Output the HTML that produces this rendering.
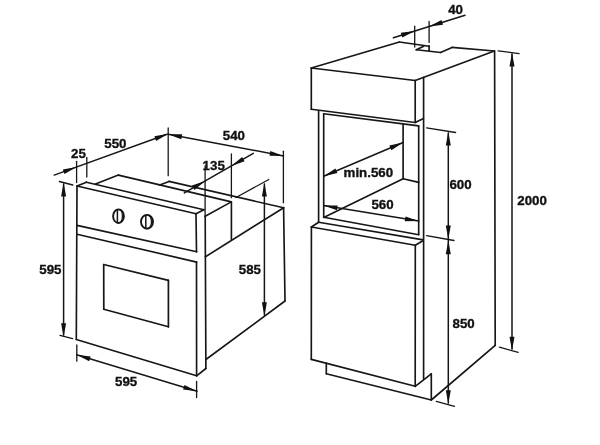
<!DOCTYPE html>
<html><head><meta charset="utf-8"><title>Oven installation dimensions</title>
<style>html,body{margin:0;padding:0;background:#fff}svg{display:block;will-change:transform}text{font-family:"Liberation Sans",Arial,Helvetica,sans-serif;font-weight:bold;font-size:13.3px;fill:#111;stroke:#111;stroke-width:0.35px}</style></head><body>
<svg width="600" height="445" viewBox="0 0 600 445">
<rect width="600" height="445" fill="#fff"/>
<g stroke="#161616" stroke-linecap="round" fill="none">
<line x1="77.0" y1="186.0" x2="196.0" y2="213.8" stroke-width="1.65"/>
<line x1="77.0" y1="186.0" x2="76.3" y2="339.5" stroke-width="1.65"/>
<line x1="76.3" y1="339.5" x2="196.6" y2="375.8" stroke-width="1.65"/>
<line x1="196.0" y1="213.8" x2="196.5" y2="251.8" stroke-width="1.65"/>
<line x1="196.5" y1="262.1" x2="196.6" y2="375.8" stroke-width="1.65"/>
<line x1="77.0" y1="186.0" x2="86.4" y2="182.2" stroke-width="1.65"/>
<line x1="86.4" y1="182.2" x2="203.9" y2="209.7" stroke-width="1.65"/>
<line x1="196.0" y1="213.8" x2="203.9" y2="209.7" stroke-width="1.65"/>
<line x1="77.0" y1="225.4" x2="196.7" y2="251.8" stroke-width="1.65"/>
<line x1="77.0" y1="234.2" x2="196.7" y2="262.1" stroke-width="1.65"/>
<line x1="103.7" y1="264.5" x2="168.4" y2="280.4" stroke-width="1.7"/>
<line x1="168.4" y1="280.4" x2="168.4" y2="326.8" stroke-width="1.7"/>
<line x1="168.4" y1="326.8" x2="103.8" y2="309.2" stroke-width="1.7"/>
<line x1="103.8" y1="309.2" x2="103.7" y2="264.5" stroke-width="1.7"/>
<line x1="196.6" y1="375.8" x2="205.9" y2="368.5" stroke-width="1.65"/>
<line x1="205.2" y1="216.3" x2="205.9" y2="368.5" stroke-width="1.65"/>
<line x1="95.5" y1="184.0" x2="118.4" y2="175.1" stroke-width="1.65"/>
<line x1="118.4" y1="175.1" x2="159.7" y2="184.9" stroke-width="1.65"/>
<line x1="159.7" y1="184.9" x2="169.0" y2="181.4" stroke-width="1.65"/>
<line x1="169.0" y1="181.4" x2="283.6" y2="207.8" stroke-width="1.65"/>
<line x1="159.7" y1="184.9" x2="231.3" y2="201.9" stroke-width="1.65"/>
<line x1="205.2" y1="216.3" x2="231.3" y2="201.9" stroke-width="1.65"/>
<line x1="231.4" y1="201.9" x2="231.4" y2="239.9" stroke-width="1.65"/>
<line x1="205.4" y1="256.8" x2="283.7" y2="207.7" stroke-width="1.65"/>
<line x1="283.6" y1="207.8" x2="285.0" y2="301.0" stroke-width="1.65"/>
<line x1="205.9" y1="359.5" x2="285.0" y2="301.0" stroke-width="1.65"/>
<line x1="54.2" y1="175.1" x2="167.0" y2="134.2" stroke-width="1.5"/>
<line x1="76.6" y1="161.3" x2="76.6" y2="182.5" stroke-width="1.3"/>
<line x1="86.8" y1="157.4" x2="86.8" y2="177.0" stroke-width="1.3"/>
<line x1="168.2" y1="128.0" x2="168.2" y2="175.7" stroke-width="1.3"/>
<line x1="168.2" y1="134.2" x2="283.5" y2="155.9" stroke-width="1.5"/>
<line x1="283.4" y1="151.2" x2="283.4" y2="202.8" stroke-width="1.3"/>
<line x1="184.3" y1="192.9" x2="253.3" y2="153.3" stroke-width="1.5"/>
<line x1="205.1" y1="166.0" x2="205.1" y2="216.0" stroke-width="1.3"/>
<line x1="231.4" y1="154.0" x2="231.4" y2="197.7" stroke-width="1.3"/>
<line x1="236.0" y1="197.5" x2="268.8" y2="179.5" stroke-width="1.3"/>
<line x1="264.4" y1="184.0" x2="264.4" y2="315.0" stroke-width="1.5"/>
<line x1="59.3" y1="181.5" x2="72.8" y2="185.0" stroke-width="1.3"/>
<line x1="60.0" y1="335.3" x2="72.6" y2="338.6" stroke-width="1.3"/>
<line x1="63.6" y1="184.0" x2="63.6" y2="335.0" stroke-width="1.5"/>
<line x1="76.8" y1="345.0" x2="76.8" y2="361.2" stroke-width="1.3"/>
<line x1="196.6" y1="381.5" x2="196.6" y2="397.6" stroke-width="1.3"/>
<line x1="76.7" y1="354.8" x2="197.0" y2="391.2" stroke-width="1.5"/>
<line x1="311.3" y1="68.0" x2="415.2" y2="80.5" stroke-width="1.65"/>
<line x1="311.3" y1="68.0" x2="311.3" y2="109.3" stroke-width="1.65"/>
<line x1="311.3" y1="109.3" x2="415.2" y2="122.5" stroke-width="1.65"/>
<line x1="415.2" y1="80.5" x2="415.2" y2="122.5" stroke-width="1.65"/>
<line x1="415.2" y1="122.5" x2="423.5" y2="118.6" stroke-width="1.65"/>
<line x1="311.3" y1="68.0" x2="399.4" y2="42.0" stroke-width="1.65"/>
<line x1="415.2" y1="80.5" x2="494.4" y2="51.0" stroke-width="1.65"/>
<line x1="399.4" y1="42.0" x2="429.1" y2="46.2" stroke-width="1.65"/>
<line x1="429.1" y1="45.8" x2="429.1" y2="50.9" stroke-width="1.65"/>
<line x1="416.3" y1="49.8" x2="440.6" y2="52.5" stroke-width="1.65"/>
<line x1="416.3" y1="49.8" x2="423.7" y2="46.2" stroke-width="1.65"/>
<line x1="440.6" y1="52.5" x2="452.0" y2="47.4" stroke-width="1.65"/>
<line x1="452.0" y1="47.4" x2="494.4" y2="51.0" stroke-width="1.65"/>
<line x1="423.6" y1="77.3" x2="423.6" y2="379.5" stroke-width="1.65"/>
<line x1="494.6" y1="51.0" x2="495.2" y2="345.4" stroke-width="1.65"/>
<line x1="318.6" y1="110.5" x2="318.6" y2="222.3" stroke-width="1.65"/>
<line x1="323.7" y1="113.8" x2="323.7" y2="217.0" stroke-width="1.65"/>
<line x1="323.7" y1="113.8" x2="418.6" y2="125.9" stroke-width="1.65"/>
<line x1="403.1" y1="124.4" x2="403.1" y2="178.7" stroke-width="1.65"/>
<line x1="418.7" y1="125.9" x2="418.7" y2="234.7" stroke-width="1.65"/>
<line x1="323.7" y1="217.5" x2="403.1" y2="178.7" stroke-width="1.65"/>
<line x1="403.1" y1="178.7" x2="418.7" y2="182.4" stroke-width="1.65"/>
<line x1="323.7" y1="217.3" x2="418.7" y2="234.7" stroke-width="1.65"/>
<line x1="318.6" y1="222.3" x2="423.3" y2="239.9" stroke-width="1.65"/>
<line x1="311.4" y1="227.0" x2="318.6" y2="222.3" stroke-width="1.65"/>
<line x1="311.4" y1="227.0" x2="415.3" y2="245.2" stroke-width="1.65"/>
<line x1="415.3" y1="245.2" x2="423.3" y2="240.5" stroke-width="1.65"/>
<line x1="311.4" y1="227.0" x2="311.3" y2="359.4" stroke-width="1.65"/>
<line x1="311.3" y1="359.4" x2="415.2" y2="386.3" stroke-width="1.65"/>
<line x1="415.3" y1="245.2" x2="415.2" y2="386.3" stroke-width="1.65"/>
<line x1="415.2" y1="386.3" x2="431.3" y2="373.8" stroke-width="1.65"/>
<line x1="326.3" y1="363.0" x2="326.3" y2="373.8" stroke-width="1.65"/>
<line x1="326.3" y1="373.8" x2="431.3" y2="400.0" stroke-width="1.65"/>
<line x1="431.3" y1="373.8" x2="431.3" y2="400.0" stroke-width="1.65"/>
<line x1="431.3" y1="400.0" x2="495.2" y2="345.4" stroke-width="1.65"/>
<line x1="393.4" y1="37.7" x2="465.0" y2="15.3" stroke-width="1.5"/>
<line x1="414.7" y1="26.2" x2="414.7" y2="47.1" stroke-width="1.3"/>
<line x1="429.1" y1="21.5" x2="429.1" y2="42.4" stroke-width="1.3"/>
<line x1="498.2" y1="50.9" x2="519.1" y2="53.6" stroke-width="1.3"/>
<line x1="499.4" y1="347.2" x2="518.2" y2="352.4" stroke-width="1.3"/>
<line x1="512.0" y1="54.0" x2="512.0" y2="349.0" stroke-width="1.5"/>
<line x1="426.6" y1="127.8" x2="455.6" y2="132.5" stroke-width="1.3"/>
<line x1="426.6" y1="235.6" x2="454.0" y2="240.5" stroke-width="1.3"/>
<line x1="436.3" y1="401.3" x2="454.5" y2="406.3" stroke-width="1.3"/>
<line x1="448.3" y1="133.0" x2="448.3" y2="403.0" stroke-width="1.5"/>
<line x1="323.7" y1="176.2" x2="403.1" y2="142.5" stroke-width="1.5"/>
<line x1="323.7" y1="205.6" x2="418.7" y2="221.1" stroke-width="1.5"/>
<ellipse cx="118.5" cy="216.2" rx="5.4" ry="6.8" stroke-width="1.9"/>
<path d="M119.3 209.7 A3.1000000000000005 6.5 0 0 1 119.3 222.7" stroke-width="1.3"/>
<line x1="117.4" y1="210.0" x2="117.4" y2="222.39999999999998" stroke-width="1.5"/>
<ellipse cx="147.0" cy="221.8" rx="6.0" ry="6.9" stroke-width="1.9"/>
<path d="M147.8 215.20000000000002 A3.7 6.6000000000000005 0 0 1 147.8 228.4" stroke-width="1.3"/>
<line x1="145.8" y1="215.60000000000002" x2="145.8" y2="228.0" stroke-width="1.5"/>
</g>
<g fill="#111" stroke="none">
<polygon points="76.6,167.0 64.5,174.1 62.8,169.4"/>
<polygon points="168.2,133.8 156.1,140.9 154.4,136.2"/>
<polygon points="168.2,134.2 182.2,134.3 181.3,139.2"/>
<polygon points="283.5,155.9 269.5,155.8 270.4,150.9"/>
<polygon points="205.1,180.9 194.4,189.9 191.9,185.6"/>
<polygon points="231.4,165.9 242.1,156.9 244.6,161.2"/>
<polygon points="264.4,182.8 266.9,196.6 261.9,196.6"/>
<polygon points="264.4,316.0 261.9,302.2 266.9,302.2"/>
<polygon points="63.6,182.6 66.1,196.4 61.1,196.4"/>
<polygon points="63.6,337.0 61.1,323.2 66.1,323.2"/>
<polygon points="76.7,354.8 90.6,356.4 89.2,361.2"/>
<polygon points="197.0,391.2 183.1,389.6 184.5,384.9"/>
<polygon points="414.7,31.0 402.3,37.5 400.8,32.7"/>
<polygon points="429.1,26.5 441.5,20.0 443.0,24.8"/>
<polygon points="512.0,52.7 514.5,66.5 509.5,66.5"/>
<polygon points="512.0,350.5 509.5,336.7 514.5,336.7"/>
<polygon points="448.3,131.8 450.8,145.6 445.8,145.6"/>
<polygon points="448.3,239.2 445.8,225.4 450.8,225.4"/>
<polygon points="448.3,240.4 450.8,254.2 445.8,254.2"/>
<polygon points="448.3,404.0 445.8,390.2 450.8,390.2"/>
<polygon points="323.7,176.2 335.4,168.5 337.4,173.1"/>
<polygon points="403.1,142.5 391.4,150.2 389.4,145.6"/>
<polygon points="323.7,205.6 337.7,205.4 336.9,210.3"/>
<polygon points="418.7,221.1 404.7,221.3 405.5,216.4"/>
</g>
<g opacity="0.999">
<text x="448.2" y="13.9">40</text>
<text x="517.3" y="205.4">2000</text>
<text x="449.4" y="189.2">600</text>
<text x="452.5" y="327.5">850</text>
<text x="343.6" y="177.3">min.560</text>
<text x="371.4" y="209.4">560</text>
<text x="104.3" y="148.2">550</text>
<text x="71.1" y="158">25</text>
<text x="222.8" y="139.9">540</text>
<text x="202.6" y="170.4">135</text>
<text x="39.3" y="273.5">595</text>
<text x="238.75" y="273.75">585</text>
<text x="115" y="386.25">595</text>
</g>
</svg></body></html>
